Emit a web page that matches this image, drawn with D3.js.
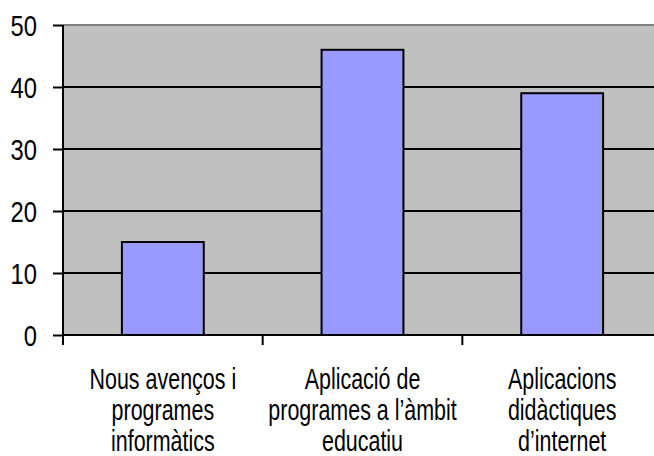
<!DOCTYPE html>
<html>
<head>
<meta charset="utf-8">
<script src="https://cdn.jsdelivr.net/npm/d3@7"></script>
<style>
  body { margin: 0; background: #fff; }
  svg text { font-family: "Liberation Sans", Arial, sans-serif; fill: #000; }
</style>
</head>
<body>
<div id="chart"></div>
<script>
// data
var categories = [
  ["Nous avenços i", "programes", "informàtics"],
  ["Aplicació de", "programes a l’àmbit", "educatiu"],
  ["Aplicacions", "didàctiques", "d’internet"]
];
var values = [15, 46, 39];
var yTicks = [0, 10, 20, 30, 40, 50];

var width = 654, height = 456;
var plotLeft = 63, plotRight = 662, plotTop = 25, plotBottom = 335;

var svg = d3.select("#chart").append("svg")
    .attr("width", width)
    .attr("height", height);

var keys = categories.map(function (d, i) { return i; });

var x = d3.scaleBand()
    .domain(keys)
    .range([plotLeft, plotRight])
    .padding(0);

var y = d3.scaleLinear()
    .domain([0, 50])
    .range([plotBottom, plotTop]);

// plot background
svg.append("rect")
    .attr("x", plotLeft)
    .attr("y", plotTop)
    .attr("width", plotRight - plotLeft)
    .attr("height", plotBottom - plotTop)
    .style("fill", "#c0c0c0");

// top border of plot
svg.append("line")
    .attr("x1", plotLeft).attr("x2", plotRight)
    .attr("y1", plotTop).attr("y2", plotTop)
    .style("stroke", "#808080")
    .style("stroke-width", 2);

// gridlines
svg.append("g")
    .selectAll("line")
    .data(yTicks.filter(function (d) { return d > 0 && d < 50; }))
    .enter().append("line")
    .attr("x1", plotLeft).attr("x2", plotRight)
    .attr("y1", function (d) { return y(d); })
    .attr("y2", function (d) { return y(d); })
    .style("stroke", "#000")
    .style("stroke-width", 2);

// bars
var barW = x.bandwidth() * 0.41;
svg.append("g")
    .selectAll("rect")
    .data(values)
    .enter().append("rect")
    .attr("x", function (d, i) { return x(i) + (x.bandwidth() - barW) / 2; })
    .attr("y", function (d) { return y(d); })
    .attr("width", barW)
    .attr("height", function (d) { return y(0) - y(d); })
    .style("fill", "#9999ff")
    .style("stroke", "#000")
    .style("stroke-width", 2);

// y axis
var yAxis = svg.append("g")
    .attr("transform", "translate(" + plotLeft + ",0)")
    .call(d3.axisLeft(y).tickValues(yTicks).tickSize(10));
yAxis.select(".domain").remove();
yAxis.append("line")
    .attr("x1", 0).attr("x2", 0)
    .attr("y1", plotTop).attr("y2", plotBottom + 10)
    .style("stroke", "#000")
    .style("stroke-width", 2);
yAxis.selectAll(".tick line").style("stroke", "#000").style("stroke-width", 2);
yAxis.selectAll(".tick text")
    .attr("x", 0)
    .attr("dy", "0.36em")
    .attr("transform", "translate(-26,0) scale(0.82,1)")
    .style("font-size", "29px");

// x axis
var xAxis = svg.append("g");
xAxis.append("line")
    .attr("x1", plotLeft).attr("x2", plotRight)
    .attr("y1", plotBottom).attr("y2", plotBottom)
    .style("stroke", "#000")
    .style("stroke-width", 2);
xAxis.selectAll(".xtick")
    .data(keys.slice(1))
    .enter().append("line")
    .attr("class", "xtick")
    .attr("x1", function (d) { return x(d); })
    .attr("x2", function (d) { return x(d); })
    .attr("y1", plotBottom).attr("y2", plotBottom + 10)
    .style("stroke", "#000")
    .style("stroke-width", 2);

var labels = xAxis.selectAll(".xlabel")
    .data(categories)
    .enter().append("text")
    .attr("class", "xlabel")
    .attr("text-anchor", "middle")
    .style("font-size", "29px")
    .attr("transform", function (d, i) {
        return "translate(" + (x(i) + x.bandwidth() / 2) + ",389) scale(0.74,1)";
    });
labels.selectAll("tspan")
    .data(function (d) { return d; })
    .enter().append("tspan")
    .attr("x", 0)
    .attr("y", function (d, i) { return i * 31; })
    .text(function (d) { return d; });
</script>
</body>
</html>
